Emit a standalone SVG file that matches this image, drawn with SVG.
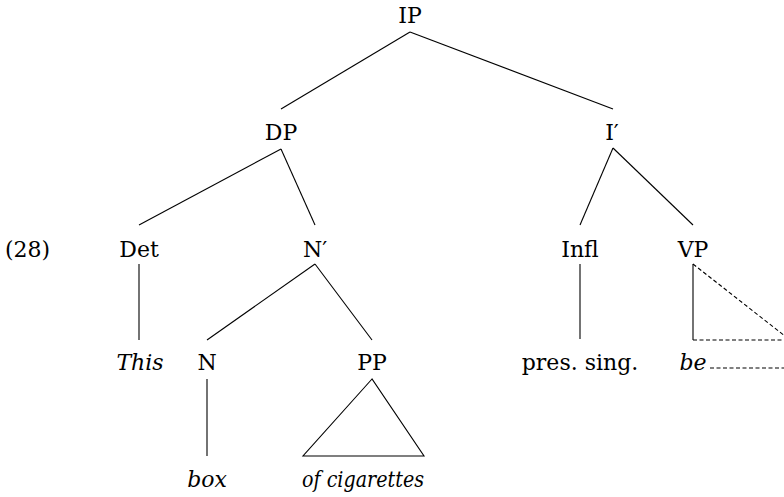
<svg xmlns="http://www.w3.org/2000/svg" width="784" height="497" viewBox="0 0 784 497">
<style>
text{font-family:"DejaVu Serif",serif;font-size:22px;fill:#000;text-anchor:middle}
.it{font-style:italic}
line,polygon,polyline{stroke:#000;stroke-width:1.1;fill:none}
.d{stroke-dasharray:4 2.5}
</style>
<rect width="784" height="497" fill="#fff"/>
<g id="connectors">
<line x1="410" y1="32" x2="281" y2="109"/>
<line x1="410" y1="32" x2="613" y2="109"/>
<line x1="281" y1="149" x2="139" y2="225"/>
<line x1="281" y1="149" x2="315" y2="225"/>
<line x1="613" y1="148" x2="580" y2="225"/>
<line x1="613" y1="148" x2="693" y2="225"/>
<line x1="139" y1="264" x2="139" y2="340"/>
<line x1="315" y1="264" x2="207" y2="340"/>
<line x1="315" y1="264" x2="372" y2="340"/>
<line x1="207" y1="379" x2="207" y2="456"/>
<polygon points="372,379 303,456 424,456"/>
<line x1="580" y1="264" x2="580" y2="339"/>
<line x1="693" y1="264" x2="693" y2="340"/>
<line class="d" x1="693" y1="340" x2="790" y2="340"/>
<line class="d" x1="693" y1="264" x2="790" y2="340"/>
<line class="d" x1="710" y1="368" x2="790" y2="368"/>
</g>
<g id="n-ex"><text x="5" y="257" style="text-anchor:start">(28)</text></g>
<g id="n-IP"><text x="410" y="23">IP</text></g>
<g id="n-DP"><text x="281" y="140">DP</text></g>
<g id="n-Ibar"><text x="612" y="140">I′</text></g>
<g id="n-Det"><text x="139" y="257">Det</text></g>
<g id="n-Nbar"><text x="315" y="257">N′</text></g>
<g id="n-Infl"><text x="580" y="257">Infl</text></g>
<g id="n-VP"><text x="693" y="257">VP</text></g>
<g id="n-This"><text class="it" x="140" y="370">This</text></g>
<g id="n-N"><text x="207" y="370">N</text></g>
<g id="n-PP"><text x="372" y="370">PP</text></g>
<g id="n-pres"><text x="580" y="370">pres. sing.</text></g>
<g id="n-be"><text class="it" x="693" y="370">be</text></g>
<g id="n-box"><text class="it" x="207" y="487">box</text></g>
<g id="n-of"><text class="it" x="363" y="487" textLength="122" lengthAdjust="spacingAndGlyphs">of cigarettes</text></g>
</svg>
